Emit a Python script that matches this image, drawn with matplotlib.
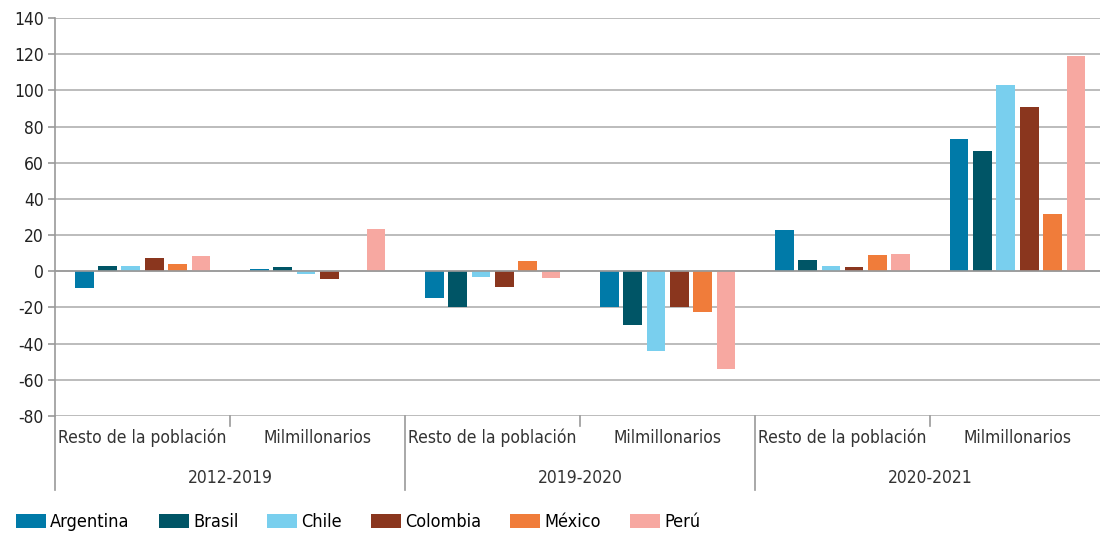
import numpy as np
import matplotlib.pyplot as plt
from matplotlib.patches import Patch
from matplotlib.lines import Line2D

plt.rcParams['font.family'] = ['DejaVu Sans']
plt.rcParams['font.stretch'] = 'condensed'
plt.rcParams['axes.unicode_minus'] = False

countries = ['Argentina', 'Brasil', 'Chile', 'Colombia', 'México', 'Perú']
colors = ['#007aa8', '#005566', '#79cfee', '#8a361e', '#f07c3a', '#f7a8a1']
subcats = ['Resto de la población', 'Milmillonarios'] * 3
periods = ['2012-2019', '2019-2020', '2020-2021']

# one list per country, six categories each
argentina = [-9.5, 1.5, -15, -19.5, 22.7, 73.2]
brasil = [3, 2.2, -20, -29.6, 6.5, 66.3]
chile = [3, -1.5, -3, -43.8, 3, 103.2]
colombia = [7.2, -4.2, -8.5, -20, 2.4, 91]
mexico = [4, 0, 5.5, -22.4, 9.2, 31.9]
peru = [8.4, 23.2, -3.5, -53.8, 9.6, 119]
series = [argentina, brasil, chile, colombia, mexico, peru]

fig = plt.figure(figsize=(11, 5.34), dpi=100)
ax = fig.add_axes([55/1100, 1-416/534, 1050/1100, 398/534])

x = np.arange(len(subcats))
slot = 0.8 / len(countries)
for i, (vals, c) in enumerate(zip(series, colors)):
    ax.bar(x - 0.4 + slot*(i+0.5), vals, width=slot*0.8, color=c, zorder=3)

ax.set_xlim(-0.5, 5.5)
ax.set_ylim(-80, 140)
ax.set_yticks(np.arange(-80, 141, 20))
ax.yaxis.grid(True, color='#b0b0b0', linewidth=1.2, zorder=0)
ax.axhline(0, color='#999999', linewidth=1.2, zorder=4)
ax.set_xticks([])
for s in ['top', 'right', 'bottom']:
    ax.spines[s].set_visible(False)
ax.spines['left'].set_color('#999999')
ax.spines['left'].set_linewidth(1.2)
ax.tick_params(axis='y', colors='#999999', labelcolor='#222222', labelsize=12.5,
               length=5, width=1.2, pad=3)

# category labels
tr = ax.get_xaxis_transform()
for xi, lab in zip(x, subcats):
    ax.text(xi, -0.055, lab, transform=tr, ha='center', va='center',
            fontsize=12.5, color='#333333')
for k, p in enumerate(periods):
    ax.text(2*k + 0.5, -0.155, p, transform=tr, ha='center', va='center',
            fontsize=12.5, color='#333333')
# separators
for xb in [0.5, 2.5, 4.5]:
    ax.add_line(Line2D([xb, xb], [0, -0.025], transform=tr, color='#999999',
                       linewidth=1.2, clip_on=False))
for xb in [-0.5, 1.5, 3.5]:
    ax.add_line(Line2D([xb, xb], [0, -0.185], transform=tr, color='#999999',
                       linewidth=1.2, clip_on=False))

handles = [Patch(facecolor=c, label=n) for n, c in zip(countries, colors)]
fig.legend(handles=handles, loc='lower left', bbox_to_anchor=(0.008, -0.008),
           ncol=6, frameon=False, fontsize=13, handlelength=1.65, handleheight=0.8,
           handletextpad=0.25, columnspacing=1.6, borderaxespad=0)

plt.savefig('out.png', dpi=100)
